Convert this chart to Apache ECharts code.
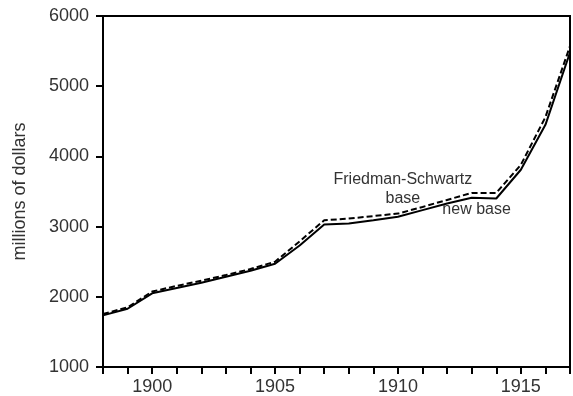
<!DOCTYPE html>
<html>
<head>
<meta charset="utf-8">
<script src="https://cdn.jsdelivr.net/npm/echarts@6/dist/echarts.min.js"></script>
<style>html,body{margin:0;padding:0;background:#fff}#c{width:573px;height:396px}</style>
</head>
<body>
<div id="c"></div>
<script>
var years = [1898,1899,1900,1901,1902,1903,1904,1905,1906,1907,1908,1909,1910,1911,1912,1913,1914,1915,1916,1917];
var newBase = [1735,1830,2050,2125,2200,2285,2370,2470,2730,3030,3045,3090,3140,3235,3330,3410,3400,3810,4450,5480];
var fsBase  = [1755,1850,2075,2155,2230,2310,2395,2500,2790,3090,3115,3150,3185,3280,3380,3480,3480,3880,4560,5570];
var yTicks = [1000,2000,3000,4000,5000,6000];
var xLabelYears = [1900,1905,1910,1915];
var annFS = {text:'Friedman-Schwartz\nbase', year:1910.2, value:3530};
var annNew = {text:'new base', year:1913.2, value:3245};

function pairs(v){ return years.map(function(y,i){ return [y, v[i]]; }); }
var font = 'Liberation Sans, Arial, sans-serif';
var chart = echarts.init(document.getElementById('c'));
chart.setOption({
  animation:false,
  backgroundColor:'#fff',
  grid:{left:103, right:1, top:16, bottom:28, show:true, borderColor:'#000', borderWidth:2, backgroundColor:'transparent'},
  xAxis:{
    type:'value', min:years[0], max:years[years.length-1], interval:1,
    axisLine:{show:true, lineStyle:{color:'#000', width:2}},
    axisTick:{show:true, inside:false, length:7, lineStyle:{color:'#000', width:2}},
    splitLine:{show:false},
    axisLabel:{fontFamily:font, fontSize:18, color:'#333', margin:11,
      formatter:function(v){ return xLabelYears.indexOf(v)>=0 ? String(v) : ''; }}
  },
  yAxis:{
    type:'value', min:yTicks[0], max:yTicks[yTicks.length-1], interval:1000,
    name:'millions of dollars', nameLocation:'middle', nameGap:74, nameRotate:90,
    nameTextStyle:{fontFamily:font, fontSize:18, color:'#333'},
    axisLine:{show:true, lineStyle:{color:'#000', width:2}},
    axisTick:{show:true, length:7, lineStyle:{color:'#000', width:2}},
    splitLine:{show:false},
    axisLabel:{fontFamily:font, fontSize:18, color:'#333', margin:14,
      formatter:function(v){ return String(v); }}
  },
  series:[
    {type:'line', name:'new base', data:pairs(newBase), symbol:'none',
     lineStyle:{color:'#000', width:2}, z:3,
     markPoint:{symbol:'circle', symbolSize:0, silent:true,
       label:{show:true, formatter:annNew.text, fontFamily:font, fontSize:16, color:'#333', position:'inside'},
       data:[{coord:[annNew.year, annNew.value]}]}},
    {type:'line', name:'Friedman-Schwartz base', data:pairs(fsBase), symbol:'none',
     lineStyle:{color:'#000', width:2, type:[6,3]}, z:4,
     markPoint:{symbol:'circle', symbolSize:0, silent:true,
       label:{show:true, formatter:annFS.text, fontFamily:font, fontSize:16, color:'#333', position:'inside', lineHeight:19, align:'center'},
       data:[{coord:[annFS.year, annFS.value]}]}}
  ]
});
</script>
</body>
</html>
